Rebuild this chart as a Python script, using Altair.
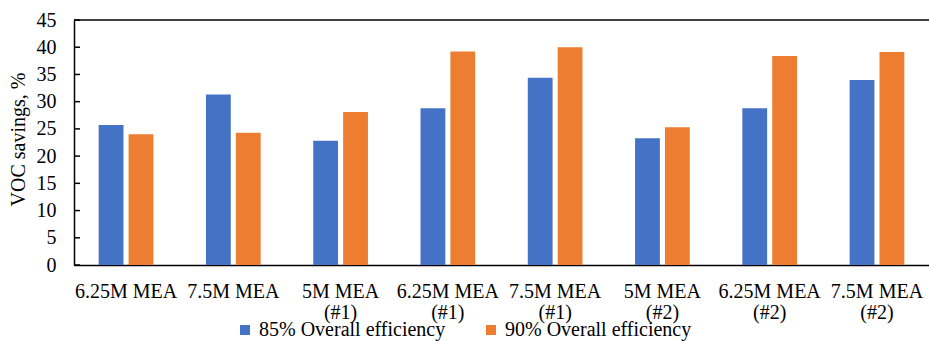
import altair as alt
import pandas as pd

# Scenario labels (line breaks split into two-line axis labels)
categories = [
    "6.25M MEA",
    "7.5M MEA",
    "5M MEA\n(#1)",
    "6.25M MEA\n(#1)",
    "7.5M MEA\n(#1)",
    "5M MEA\n(#2)",
    "6.25M MEA\n(#2)",
    "7.5M MEA\n(#2)",
]
series = ["85% Overall efficiency", "90% Overall efficiency"]
savings_85 = [25.7, 31.3, 22.8, 28.8, 34.4, 23.3, 28.8, 34.0]
savings_90 = [24.0, 24.3, 28.1, 39.2, 40.0, 25.3, 38.4, 39.1]
y_ticks = [0, 5, 10, 15, 20, 25, 30, 35, 40, 45]

colors = ["#4472C4", "#ED7D31"]
FONT = "Liberation Serif"

rows = []
for cat, a, b in zip(categories, savings_85, savings_90):
    rows.append({"scenario": cat, "series": series[0], "value": a})
    rows.append({"scenario": cat, "series": series[1], "value": b})
df = pd.DataFrame(rows)
ticks_df = pd.DataFrame({"tick": y_ticks})

y_scale = alt.Scale(domain=[0, 45], nice=False)

# One shared value-axis definition used by every layer
y_axis = alt.Axis(
    title="VOC savings, %",
    values=y_ticks,
    labelOverlap=False,
    labelFlush=False,
    grid=False,
    ticks=False,
    tickSize=0,
    labelFont=FONT,
    labelFontSize=20,
    labelColor="black",
    labelPadding=18,
    titleFont=FONT,
    titleFontSize=20,
    titleFontWeight="normal",
    titleColor="black",
    titleX=-56,
    titleY=119,
    titleAlign="center",
    titleBaseline="middle",
    domainColor="black",
    domainWidth=1.5,
)

bars = alt.Chart(df).mark_bar(strokeWidth=0).encode(
    x=alt.X(
        "scenario:N",
        sort=categories,
        scale=alt.Scale(paddingInner=0.49, paddingOuter=0.23),
        axis=alt.Axis(
            title=None,
            labelAngle=0,
            labelExpr="split(datum.label, '\\n')",
            labelFont=FONT,
            labelFontSize=20,
            labelColor="black",
            labelLineHeight=21,
            labelPadding=16,
            labelLimit=300,
            ticks=False,
            tickSize=0,
            domainColor="black",
            domainWidth=1.5,
        ),
    ),
    xOffset=alt.XOffset(
        "series:N",
        sort=series,
        scale=alt.Scale(paddingInner=0.17, paddingOuter=0),
    ),
    y=alt.Y("value:Q", scale=y_scale, axis=y_axis),
    color=alt.Color(
        "series:N",
        sort=series,
        scale=alt.Scale(domain=series, range=colors),
        legend=alt.Legend(
            title=None,
            orient="none",
            legendX=161,
            legendY=300,
            direction="horizontal",
            symbolType="square",
            symbolSize=100,
            symbolStrokeWidth=0,
            labelFont=FONT,
            labelFontSize=20,
            labelColor="black",
            labelLimit=400,
            labelOffset=4,
            columnPadding=35,
            padding=0,
        ),
    ),
)

# Frame line along the top of the plot area
top_line = alt.Chart(pd.DataFrame({"top": [45]})).mark_rule(
    color="black", strokeWidth=1.5
).encode(y=alt.Y("top:Q", scale=y_scale, axis=y_axis))

# Inward-pointing tick marks on the value axis
inner_ticks = alt.Chart(ticks_df).mark_rule(color="black", strokeWidth=1.5).encode(
    y=alt.Y("tick:Q", scale=y_scale, axis=y_axis),
    x=alt.value(0),
    x2=alt.value(6),
)

chart = (
    alt.layer(bars, top_line, inner_ticks)
    .properties(
        width=855,
        height=245,
        autosize=alt.AutoSizeParams(type="none"),
        padding={"left": 74, "top": 20, "right": 0, "bottom": 76},
        background="white",
    )
    .configure(font=FONT)
    .configure_view(stroke=None)
)

chart.save("out.html", embed_options={"renderer": "svg", "actions": False})
